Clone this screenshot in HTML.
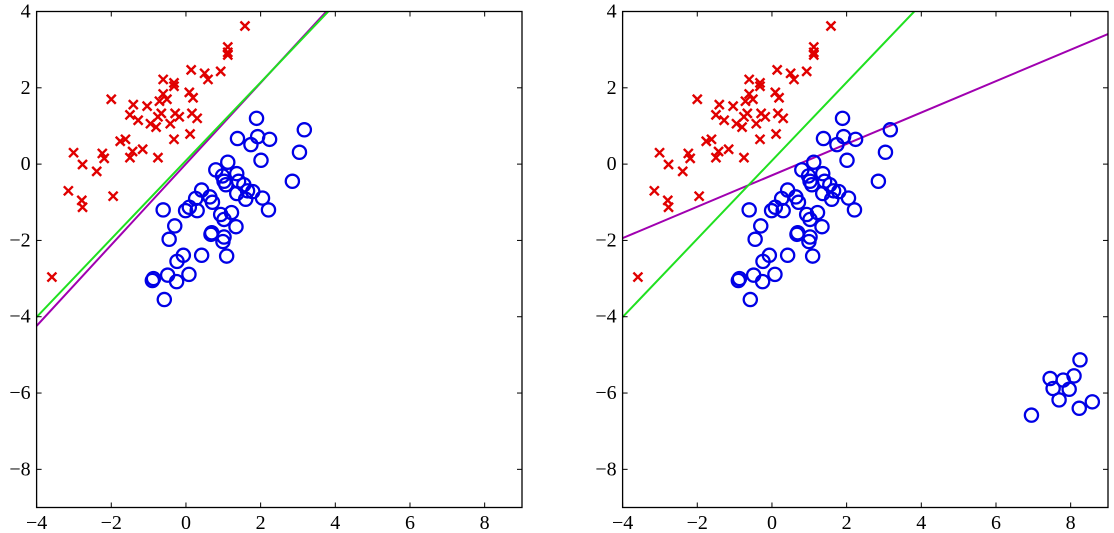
<!DOCTYPE html>
<html><head><meta charset="utf-8"><style>
html,body{margin:0;padding:0;background:#fff;}
svg{display:block;}
.t{font-family:'Liberation Serif','Times New Roman','DejaVu Serif',serif;font-size:20px;fill:#000;}
</style></head><body>
<svg id="s" width="1114" height="533" viewBox="0 0 1114 533" xmlns="http://www.w3.org/2000/svg"></svg>
<script>
const red=[[1.58,3.62],[1.12,3.07],[1.12,2.93],[1.12,2.86],[0.14,2.47],[0.5,2.38],[0.59,2.22],[0.93,2.43],[-0.61,2.22],[-0.32,2.13],[-0.32,2.04],[-2.0,1.70],[-1.41,1.56],[-1.04,1.52],[-0.61,1.84],[-0.51,1.70],[-0.71,1.65],[0.09,1.88],[0.19,1.74],[-1.5,1.29],[-1.28,1.15],[-0.95,1.06],[-0.80,0.97],[-0.75,1.24],[-0.66,1.33],[-0.29,1.33],[-0.18,1.24],[-0.42,1.06],[0.16,1.33],[0.30,1.20],[0.11,0.79],[-0.32,0.65],[-1.76,0.60],[-1.62,0.65],[-1.16,0.39],[-1.43,0.33],[-1.5,0.17],[-0.75,0.17],[-3.01,0.30],[-2.24,0.28],[-2.19,0.15],[-2.77,-0.01],[-2.39,-0.19],[-3.15,-0.70],[-2.79,-0.95],[-2.77,-1.13],[-1.95,-0.84],[-3.59,-2.96]];
const blue=[[1.89,1.20],[1.38,0.67],[1.92,0.72],[1.74,0.51],[2.24,0.65],[3.17,0.90],[3.04,0.31],[2.01,0.10],[1.12,0.05],[2.85,-0.45],[0.80,-0.15],[0.98,-0.31],[1.07,-0.54],[1.02,-0.45],[1.36,-0.25],[1.41,-0.45],[1.55,-0.54],[1.65,-0.70],[1.60,-0.92],[1.79,-0.72],[1.36,-0.77],[2.05,-0.89],[2.21,-1.20],[0.42,-0.68],[0.26,-0.90],[0.64,-0.86],[0.71,-1.0],[-0.61,-1.20],[-0.01,-1.22],[0.09,-1.13],[0.30,-1.22],[0.93,-1.32],[1.02,-1.45],[1.22,-1.27],[1.34,-1.64],[-0.30,-1.62],[0.69,-1.80],[0.67,-1.84],[1.02,-1.91],[0.99,-2.03],[-0.45,-1.97],[-0.07,-2.39],[-0.24,-2.55],[0.42,-2.39],[1.09,-2.41],[-0.87,-3.0],[-0.9,-3.05],[-0.49,-2.91],[-0.25,-3.08],[0.08,-2.89],[-0.58,-3.55]];
const extra=[[8.25,-5.13],[7.45,-5.62],[7.80,-5.66],[8.09,-5.55],[7.53,-5.88],[7.96,-5.90],[7.69,-6.18],[8.23,-6.40],[8.58,-6.23],[6.95,-6.58]];
let h='';
function panel(L,lines,pts2){
  const R=L+485.4,T=11.5,B=507.5,sx=(R-L)/13,sy=(B-T)/13;
  const X=x=>L+(x+4)*sx, Y=y=>T+(4-y)*sy;
  h+=`<defs><clipPath id="c${L|0}"><rect x="${L}" y="${T}" width="${R-L}" height="${B-T}"/></clipPath></defs>`;
  h+=`<g clip-path="url(#c${L|0})">`;
  for(const l of lines) h+=`<line x1="${X(l[0])}" y1="${Y(l[1])}" x2="${X(l[2])}" y2="${Y(l[3])}" stroke="${l[4]}" stroke-width="2"/>`;
  h+='</g>';
  for(const p of red){const x=X(p[0]),y=Y(p[1]),d=4.5;h+=`<path d="M${x-d} ${y-d}L${x+d} ${y+d}M${x-d} ${y+d}L${x+d} ${y-d}" stroke="#e00000" stroke-width="2.4" fill="none"/>`;}
  for(const p of blue.concat(pts2)){h+=`<circle cx="${X(p[0])}" cy="${Y(p[1])}" r="6.6" stroke="#0000e6" stroke-width="2.3" fill="none"/>`;}
  h+=`<rect x="${L}" y="${T}" width="${R-L}" height="${B-T}" fill="none" stroke="#000" stroke-width="1.3"/>`;
  for(let v=-4;v<=8;v+=2){const x=X(v);h+=`<line x1="${x}" y1="${B}" x2="${x}" y2="${B-5}" stroke="#000"/><line x1="${x}" y1="${T}" x2="${x}" y2="${T+5}" stroke="#000"/>`;
    h+=`<text class="t" x="${x}" y="529" text-anchor="middle">${v<0?'\u2212'+(-v):v}</text>`;}
  for(let v=-8;v<=4;v+=2){const y=Y(v);h+=`<line x1="${L}" y1="${y}" x2="${L+5}" y2="${y}" stroke="#000"/><line x1="${R}" y1="${y}" x2="${R-5}" y2="${y}" stroke="#000"/>`;
    h+=`<text class="t" x="${L-6}" y="${y+6}" text-anchor="end">${v<0?'\u2212'+(-v):v}</text>`;}
}
panel(36.6,[[-4,-4.24,3.76,4,'#a000b0'],[-4,-4.01,3.81,4,'#20e020']],[]);
panel(622.6,[[-4,-1.94,9,3.41,'#a000b0'],[-4,-4.01,3.81,4,'#20e020']],extra);
document.getElementById('s').innerHTML=h;
</script>
</body></html>
